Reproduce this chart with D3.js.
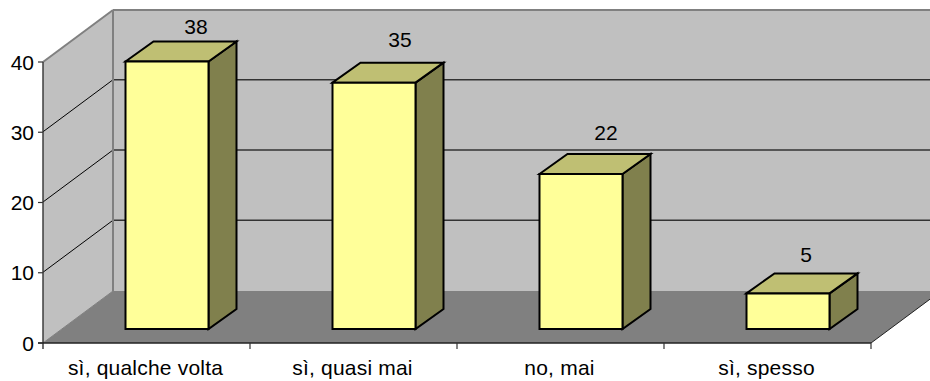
<!DOCTYPE html>
<html><head><meta charset="utf-8">
<script src="https://cdn.jsdelivr.net/npm/d3@7"></script>
<style>html,body{margin:0;background:#fff}svg{display:block}text{font-family:"Liberation Sans",Arial,sans-serif;fill:#000}</style>
</head><body><svg id="c" width="930" height="381"></svg>
<script>
const categories = ["sì, qualche volta", "sì, quasi mai", "no, mai", "sì, spesso"];
const values = [38, 35, 22, 5];
const yTicks = [0, 10, 20, 30, 40];
const labelNudgeX = [15, 12, 11, 4];
const labelNudgeY = [-16, -24, -22, -19];

const svg = d3.select("#c");
const y = d3.scaleLinear().domain([0, 40]).range([343, 62]);
const x = d3.scaleBand().domain(categories).range([43, 871]);
const dx = 70, dy = -52, right = 871;
const line = d3.line();
const poly = (pts, fill) => svg.append("path").attr("d", line(pts) + "Z").attr("fill", fill);
const seg = (a, b, stroke, sw) => svg.append("line").attr("x1", a[0]).attr("y1", a[1]).attr("x2", b[0]).attr("y2", b[1])
  .attr("stroke", stroke).attr("stroke-width", sw);

const y0 = y(0), yT = y(40);
poly([[43, yT], [43 + dx, yT + dy], [right + dx, yT + dy], [right + dx, y0 + dy], [43 + dx, y0 + dy], [43, y0]], "#c0c0c0");
poly([[43, y0], [43 + dx, y0 + dy], [right + dx, y0 + dy], [right, y0]], "#808080");
yTicks.filter(t => t > 0 && t < 40).forEach(t => {
  seg([43, y(t) - 0.5], [43 + dx, y(t) + dy - 0.5], "#000", 1);
  seg([43 + dx, y(t) + dy - 0.5], [right + dx, y(t) + dy - 0.5], "#333", 1.4);
});
seg([43, yT], [43 + dx, yT + dy], "#808080", 2);
seg([43 + dx, yT + dy], [right + dx, yT + dy], "#808080", 2);
seg([43 + dx, yT + dy], [43 + dx, y0 + dy], "#808080", 2);
seg([43, y0], [43 + dx, y0 + dy], "#808080", 1);
seg([right, y0], [right + dx, y0 + dy], "#222", 1);

const barW = 83, frontX = 20.5, frontY = -14, sideX = 28, sideY = -20;
const bars = svg.append("g");
values.forEach((v, i) => {
  const l = x(categories[i]) + (x.bandwidth() - barW) / 2 + frontX, r = l + barW;
  const b = y(0) + frontY, t = y(v) + frontY - 0.5;
  const g = bars.append("g").attr("stroke", "#000").attr("stroke-width", 2).attr("stroke-linejoin", "miter");
  const p = (pts, f) => g.append("path").attr("d", line(pts) + "Z").attr("fill", f);
  p([[r, t], [r + sideX, t + sideY], [r + sideX, b + sideY], [r, b]], "#80804d");
  p([[l, t], [l + sideX, t + sideY], [r + sideX, t + sideY], [r, t]], "#bfbf73");
  p([[l, t], [r, t], [r, b], [l, b]], "#ffff99");
  svg.append("text").attr("x", (l + r) / 2 + sideX / 2 + labelNudgeX[i]).attr("y", t + sideY + labelNudgeY[i] + 8)
    .attr("text-anchor", "middle").attr("font-size", 21).text(v);
});

seg([43, yT], [43, y0 + 6], "#333", 1.4);
seg([38, y0], [right, y0], "#222", 1.4);
yTicks.forEach(t => {
  seg([38, y(t)], [43, y(t)], "#333", 1.2);
  svg.append("text").attr("x", 34).attr("y", y(t) + 7.5).attr("text-anchor", "end").attr("font-size", 21).text(t);
});
categories.forEach(c => {
  seg([x(c) + x.bandwidth(), y0], [x(c) + x.bandwidth(), y0 + 6], "#333", 1.2);
  svg.append("text").attr("x", x(c) + x.bandwidth() / 2 - 1).attr("y", 374.5).attr("text-anchor", "middle")
    .attr("font-size", 21).attr("letter-spacing", 0.2).text(c);
});
</script></body></html>
